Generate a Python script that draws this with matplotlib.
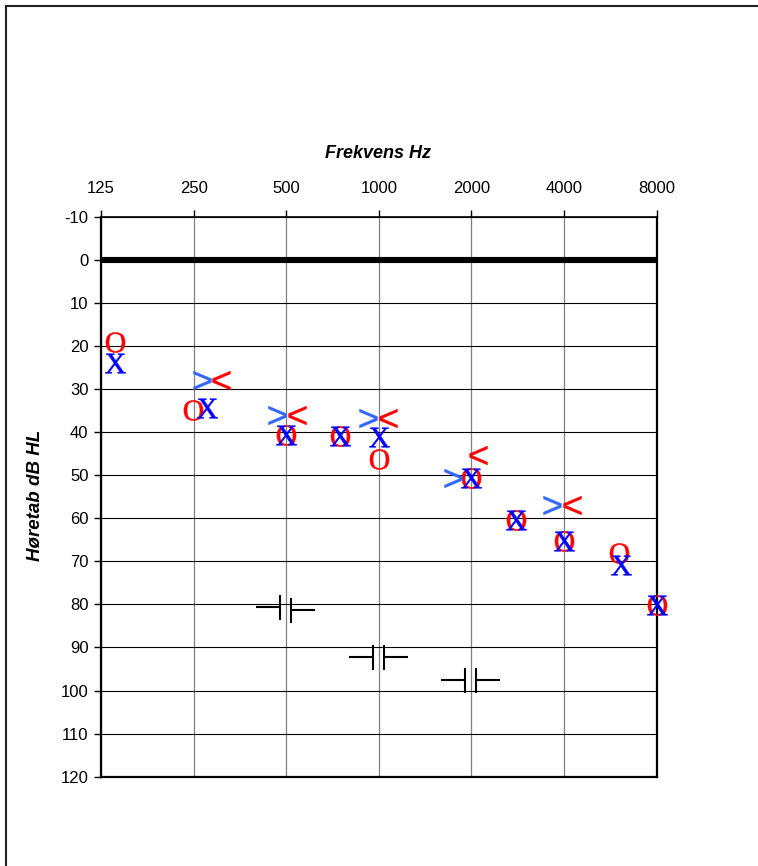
import numpy as np
import matplotlib
matplotlib.use('Agg')
import matplotlib.pyplot as plt
from matplotlib.path import Path
from matplotlib.lines import Line2D
from matplotlib.textpath import TextPath
from matplotlib.font_manager import FontProperties
from matplotlib.ticker import NullLocator

plt.rcParams['font.family'] = ['Liberation Sans', 'DejaVu Sans']

# ---------------- data ----------------
freq_ticks = [125, 250, 500, 1000, 2000, 4000, 8000]
freq_labels = ['125', '250', '500', '1000', '2000', '4000', '8000']
db_ticks = list(range(-10, 121, 10))
ref_line_db = 0

# Right ear air conduction (O, red)
right_ac_freq = [139, 249, 500, 750, 1000, 2000, 2800, 4000, 6050, 8000]
right_ac_db = [19.0, 34.9, 40.7, 41.0, 46.3, 50.7, 60.4, 65.2, 68.0, 80.1]
# Left ear air conduction (X, blue)
left_ac_freq = [139, 276, 500, 750, 1000, 2000, 2800, 4000, 6110, 8000]
left_ac_db = [24.0, 34.3, 40.7, 41.0, 41.1, 50.7, 60.4, 65.2, 70.8, 80.1]
# Bone conduction: left '>' (blue), right '<' (red)
left_bc_freq = [266, 466, 925, 1746, 3646]
left_bc_db = [27.9, 36.0, 36.8, 50.7, 56.9]
right_bc_freq = [308, 541, 1072, 2105, 4236]
right_bc_db = [27.9, 36.0, 36.8, 45.3, 56.9]
# Masked bone conduction brackets
mask_freq = [500, 1000, 2000]
mask_left_db = [80.7, 92.3, 97.6]
mask_right_db = [81.3, 92.3, 97.6]

# ---------------- figure ----------------
W, H = 758, 866
DPI = 100
fig = plt.figure(figsize=(W / DPI, H / DPI), dpi=DPI)
fig.patch.set_facecolor('white')

ax_l, ax_r, ax_t, ax_b = 101, 656.7, 216.7, 776.7
ax = fig.add_axes([ax_l / W, 1 - ax_b / H, (ax_r - ax_l) / W, (ax_b - ax_t) / H])

ax.set_xscale('log', base=2)
ax.set_xlim(125, 8000)
ax.set_ylim(120, -10)
ax.xaxis.tick_top()
ax.set_xticks(freq_ticks)
ax.set_xticklabels(freq_labels)
ax.xaxis.set_minor_locator(NullLocator())
ax.set_yticks(db_ticks)
ax.set_yticklabels([str(v) for v in db_ticks])
ax.tick_params(axis='x', top=True, bottom=False, labeltop=True, labelbottom=False,
               direction='out', length=5, width=1, pad=10, labelsize=12, colors='black')
ax.tick_params(axis='y', left=True, right=False, direction='out', length=5, width=1,
               pad=4, labelsize=12, colors='black')

ax.yaxis.grid(True, color='black', lw=0.8)
ax.xaxis.grid(True, color='#808080', lw=0.9)
ax.set_axisbelow(True)

for side, lw in [('left', 1.6), ('top', 1.2), ('right', 1.6), ('bottom', 1.6)]:
    ax.spines[side].set_linewidth(lw)
    ax.spines[side].set_color('black')

ax.axhline(ref_line_db, color='black', lw=4.4, zorder=2)


def glyph_marker(ch, family):
    tp = TextPath((0, 0), ch, size=10, prop=FontProperties(family=family))
    ext = tp.get_extents()
    cx = (ext.x0 + ext.x1) / 2
    cy = (ext.y0 + ext.y1) / 2
    v = tp.vertices - [cx, cy]
    return Path(v, tp.codes)


m_O = glyph_marker('O', 'Liberation Serif')
m_X = glyph_marker('X', 'Liberation Serif')
m_gt = glyph_marker('>', 'Liberation Sans')
m_lt = glyph_marker('<', 'Liberation Sans')

ax.plot(right_ac_freq, right_ac_db, ls='none', marker=m_O, ms=15.5, mew=0.4,
        color='#FF0000', zorder=5, clip_on=False)
ax.plot(left_ac_freq, left_ac_db, ls='none', marker=m_X, ms=15.5, mew=0.4,
        color='#0000FF', zorder=6, clip_on=False)
ax.plot(left_bc_freq, left_bc_db, ls='none', marker=m_gt, ms=17.5, mew=0.3,
        color='#3366FF', zorder=6, clip_on=False)
ax.plot(right_bc_freq, right_bc_db, ls='none', marker=m_lt, ms=17.5, mew=0.3,
        color='#FF0000', zorder=6, clip_on=False)

MV, LT = Path.MOVETO, Path.LINETO
mask_left_path = Path([(-30, 0), (-6, 0), (-6, -12.5), (-6, 12.5)], [MV, LT, MV, LT])
mask_right_path = Path([(5, -12.5), (5, 12.5), (5, 0), (29, 0)], [MV, LT, MV, LT])
px2pt = 72 / DPI
ax.plot(mask_freq, mask_left_db, ls='none', marker=mask_left_path, ms=60 * px2pt,
        mfc='none', mec='black', mew=1.5, zorder=6)
ax.plot(mask_freq, mask_right_db, ls='none', marker=mask_right_path, ms=58 * px2pt,
        mfc='none', mec='black', mew=1.5, zorder=6)

fig.text(378 / W, 1 - 153 / H, 'Frekvens Hz', ha='center', va='center',
         fontsize=13, fontweight='bold', fontstyle='italic')
fig.text(35 / W, 1 - 495 / H, 'Høretab dB HL', ha='center', va='center',
         rotation=90, fontsize=13.5, fontweight='bold', fontstyle='italic')

# outer frame (left and top edges visible)
fig.add_artist(Line2D([6 / W, 6 / W], [0, 1 - 6 / H], transform=fig.transFigure,
                      color='#222222', lw=1.5))
fig.add_artist(Line2D([6 / W, 1], [1 - 6 / H, 1 - 6 / H], transform=fig.transFigure,
                      color='#222222', lw=1.5))

fig.savefig('out.png', dpi=DPI)
